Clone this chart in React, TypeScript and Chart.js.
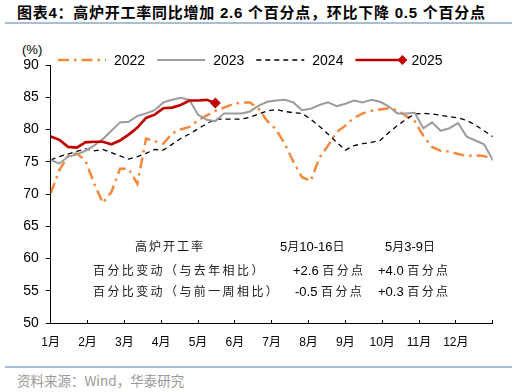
import React, { useEffect, useRef } from 'react';
import { Chart, registerables } from 'chart.js';

Chart.register(...registerables);

const titleText = '图表4：高炉开工率同比增加 2.6 个百分点，环比下降 0.5 个百分点';
const sourceText = '资料来源：Wind，华泰研究';
const unitText = '(%)';

const monthLabels = ['1月', '2月', '3月', '4月', '5月', '6月', '7月', '8月', '9月', '10月', '11月', '12月'];
const weeksSpan = 51;

const seriesNames = ['2022', '2023', '2024', '2025'];

const values2022 = [
  70.1, 73.7, 75.9, 76.3, 75.2, 71.7, 68.6, 70.3, 73.9, 73.9,
  71.6, 78.6, 78.2, 77.8, 79.4, 80.0, 80.4, 81.4, 82.2, 82.9,
  83.4, 83.9, 84.2, 84.2, 83.2, 81.3, 80.0, 77.8, 75.0, 72.6,
  72.0, 75.6, 77.5, 79.6, 80.6, 81.8, 82.5, 82.9, 83.1, 83.3,
  83.0, 82.1, 81.3, 79.0, 77.3, 76.7, 76.6, 76.2, 75.9, 76.0,
  75.9, 75.3,
];

const values2023 = [
  75.3, 74.7, 75.8, 76.1, 76.7, 77.5, 78.5, 79.8, 81.1, 81.2,
  82.1, 82.5, 83.0, 84.2, 84.6, 84.9, 84.6, 82.3, 81.5, 81.3,
  82.5, 82.5, 82.5, 82.8, 83.7, 84.3, 84.5, 84.6, 84.2, 83.0,
  83.2, 83.8, 84.2, 83.6, 84.0, 84.5, 84.2, 84.6, 84.3, 83.6,
  82.5, 82.5, 82.6, 80.2, 81.1, 79.8, 80.2, 81.0, 78.9, 78.3,
  77.7, 75.3,
];

const values2024 = [
  75.3, 75.8, 76.2, 76.6, 77.0, 76.7, 76.9, 76.4, 75.9, 75.4,
  75.8, 76.3, 76.9, 76.8, 77.7, 78.6, 79.3, 80.1, 80.9, 81.6,
  81.6, 81.6, 81.6, 81.9, 82.4, 82.9, 83.1, 82.8, 82.6, 82.5,
  81.6, 80.5, 79.3, 78.0, 76.8, 77.5, 77.8, 78.0, 78.3, 79.5,
  80.6, 81.6, 82.4, 82.5, 82.4, 82.2, 82.0, 81.8, 81.4, 80.7,
  79.8, 78.9,
];

const values2025 = [
  78.9, 78.4, 77.3, 77.2, 78.0, 78.1, 78.1, 77.7, 78.3, 79.2,
  80.3, 81.8, 82.3, 83.3, 83.4, 83.8, 84.5, 84.5, 84.6, 84.1,
];

const tableHeader = ['高炉开工率', '5月10-16日', '5月3-9日'];
const tableRow1 = ['百分比变动（与去年相比）', '+2.6 百分点', '+4.0 百分点'];
const tableRow2 = ['百分比变动（与前一周相比）', '-0.5 百分点', '+0.3 百分点'];

const LATIN = '"Liberation Sans", Arial, "Noto Sans CJK SC", sans-serif';
const CJK = '"Noto Sans CJK SC", "Liberation Sans", sans-serif';

const toPoints = (arr: number[]) => arr.map((v, i) => ({ x: i, y: v }));

function MixedText({ text, cjkSize, latinSize, spacing }: { text: string; cjkSize: number; latinSize: number; spacing: number }) {
  const runs: { s: string; cjk: boolean }[] = [];
  for (const ch of text) {
    const cjk = /[\u3000-\u9fff\uff00-\uffef]/.test(ch);
    const last = runs[runs.length - 1];
    if (last && last.cjk === cjk) last.s += ch;
    else runs.push({ s: ch, cjk });
  }
  return (
    <>
      {runs.map((r, i) => (
        <span
          key={i}
          style={
            r.cjk
              ? { fontFamily: CJK, fontSize: cjkSize, letterSpacing: r.s.length > 1 ? spacing : 0, color: '#222' }
              : { fontFamily: LATIN, fontSize: latinSize, color: '#000' }
          }
        >
          {r.s}
        </span>
      ))}
    </>
  );
}

const legendPlugin = {
  id: 'customLegend',
  afterDraw(chart: any) {
    const ctx = chart.ctx;
    const y = chart.chartArea.top - 5;
    let x = 58;
    const lineLen = 48;
    ctx.save();
    ctx.font = `14px ${LATIN}`;
    ctx.textBaseline = 'middle';
    chart.data.datasets.forEach((ds: any) => {
      ctx.save();
      ctx.strokeStyle = ds.borderColor;
      ctx.lineWidth = ds.borderWidth;
      ctx.setLineDash(ds.borderDash || []);
      ctx.beginPath();
      ctx.moveTo(x, y);
      ctx.lineTo(x + lineLen, y);
      ctx.stroke();
      ctx.restore();
      if (ds.legendMarker) {
        ctx.save();
        ctx.fillStyle = ds.borderColor;
        const cx = x + lineLen - 1;
        const r = 5;
        ctx.beginPath();
        ctx.moveTo(cx, y - r);
        ctx.lineTo(cx + r, y);
        ctx.lineTo(cx, y + r);
        ctx.lineTo(cx - r, y);
        ctx.closePath();
        ctx.fill();
        ctx.restore();
      }
      const tx = x + lineLen + 8;
      ctx.fillStyle = '#000';
      ctx.fillText(ds.label, tx, y + 1);
      x = tx + ctx.measureText(ds.label).width + 12;
    });
    ctx.restore();
  },
};

export default function App() {
  const ref = useRef<HTMLCanvasElement>(null);

  useEffect(() => {
    document.body.style.margin = '0';
    const canvas = ref.current;
    if (!canvas) return;
    const last2025 = values2025.length - 1;
    const chart = new Chart(canvas, {
      type: 'line',
      data: {
        datasets: [
          {
            label: seriesNames[0],
            data: toPoints(values2022),
            borderColor: '#F5883A',
            borderWidth: 2.5,
            borderDash: [11, 5, 2.5, 5],
            pointRadius: 0,
            order: 3,
          },
          {
            label: seriesNames[1],
            data: toPoints(values2023),
            borderColor: '#9C9C9C',
            borderWidth: 2,
            pointRadius: 0,
            order: 1,
          },
          {
            label: seriesNames[2],
            data: toPoints(values2024),
            borderColor: '#000000',
            borderWidth: 1.3,
            borderDash: [5, 4],
            pointRadius: 0,
            order: 2,
          },
          {
            label: seriesNames[3],
            data: toPoints(values2025),
            borderColor: '#C00000',
            backgroundColor: '#C00000',
            borderWidth: 2.7,
            pointStyle: 'rectRot',
            pointRadius: (c: any) => (c.dataIndex === last2025 ? 5.5 : 0),
            pointBackgroundColor: '#C00000',
            pointBorderColor: '#C00000',
            pointBorderWidth: 0,
            legendMarker: true,
            order: 0,
          } as any,
        ],
      },
      options: {
        responsive: true,
        maintainAspectRatio: false,
        animation: false,
        events: [],
        layout: { padding: { top: 35, right: 24.3, left: 0, bottom: 0 } },
        plugins: {
          legend: { display: false },
          tooltip: { enabled: false },
          title: { display: false },
        },
        scales: {
          x: {
            type: 'linear',
            min: 0,
            max: weeksSpan,
            afterBuildTicks: (scale: any) => {
              const ticks = [];
              for (let k = 0; k <= monthLabels.length; k++) ticks.push({ value: (k * weeksSpan) / monthLabels.length });
              scale.ticks = ticks;
            },
            afterFit: (scale: any) => {
              scale.height = 42;
            },
            ticks: {
              autoSkip: false,
              maxRotation: 0,
              minRotation: 0,
              padding: 15,
              color: '#000',
              font: { size: 12, family: LATIN },
              callback: (_v: any, i: number) => monthLabels[i] ?? '',
            },
            grid: { drawOnChartArea: false, drawTicks: true, tickLength: -3, color: '#000' },
            border: { display: true, color: '#000', width: 1 },
          },
          y: {
            min: 50,
            max: 90,
            afterFit: (scale: any) => {
              scale.width = 50.7;
            },
            ticks: {
              stepSize: 5,
              padding: 7,
              color: '#000',
              font: { size: 14, family: LATIN },
            },
            grid: { drawOnChartArea: false, drawTicks: true, tickLength: 5, color: '#000' },
            border: { display: true, color: '#000', width: 1 },
          },
        },
      } as any,
      plugins: [legendPlugin],
    });
    return () => chart.destroy();
  }, []);

  const cell = (left: number, top: number, text: string, key: string, spacing: number) => (
    <div key={key} style={{ position: 'absolute', left, top, whiteSpace: 'nowrap', lineHeight: '16px' }}>
      <MixedText text={text} cjkSize={12} latinSize={13} spacing={spacing} />
    </div>
  );

  return (
    <div style={{ position: 'relative', width: 517, height: 392, background: '#fff', overflow: 'hidden' }}>
      <div
        style={{
          position: 'absolute',
          left: 17,
          top: 3,
          whiteSpace: 'nowrap',
          fontSize: 15,
          fontWeight: 'bold',
          lineHeight: '20px',
          letterSpacing: 0.75,
          fontFamily: LATIN,
          color: '#000',
        }}
      >
        {titleText}
      </div>
      <div style={{ position: 'absolute', left: 5, top: 22, width: 507, height: 2, background: '#A9BDD3' }} />
      <div style={{ position: 'absolute', left: 22, top: 42, fontSize: 13, lineHeight: '16px', fontFamily: LATIN }}>{unitText}</div>
      <div style={{ position: 'absolute', left: 0, top: 30, width: 517, height: 335 }}>
        <canvas ref={ref} />
      </div>
      {cell(135, 238, tableHeader[0], 'h0', 2)}
      {cell(280, 238, tableHeader[1], 'h1', 0)}
      {cell(385, 238, tableHeader[2], 'h2', 0)}
      {cell(93, 262, tableRow1[0], 'a0', 2.4)}
      {cell(293, 262, tableRow1[1], 'a1', 2.4)}
      {cell(378, 262, tableRow1[2], 'a2', 2.4)}
      {cell(93, 283, tableRow2[0], 'b0', 2.4)}
      {cell(295, 283, tableRow2[1], 'b1', 2.4)}
      {cell(378, 283, tableRow2[2], 'b2', 2.4)}
      <div style={{ position: 'absolute', left: 5, top: 366, width: 507, height: 2, background: '#A9BDD3' }} />
      <div
        style={{
          position: 'absolute',
          left: 17,
          top: 371,
          whiteSpace: 'nowrap',
          fontSize: 13.5,
          lineHeight: '18px',
          fontFamily: CJK,
          color: '#999',
        }}
      >
        {sourceText}
      </div>
    </div>
  );
}
